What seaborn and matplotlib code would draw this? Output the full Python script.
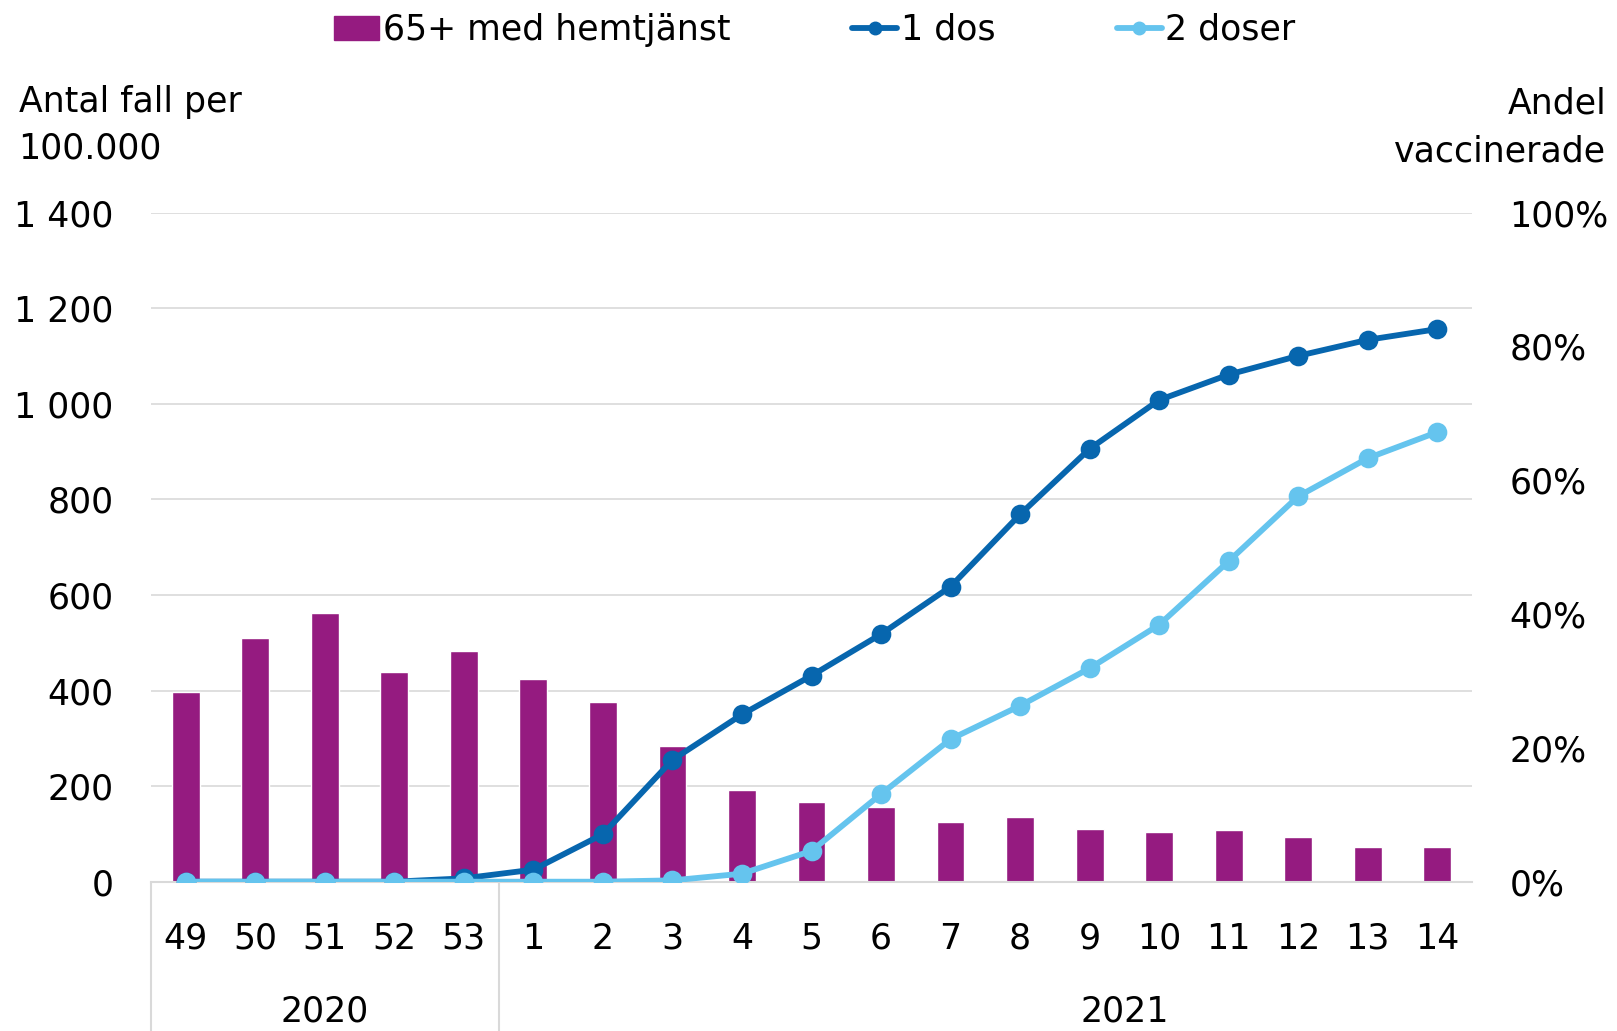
import numpy as np
import pandas as pd
import seaborn as sns
import matplotlib
matplotlib.use("Agg")
import matplotlib.pyplot as plt
import matplotlib.transforms as mtransforms
from matplotlib.lines import Line2D
from matplotlib.patches import Patch
from matplotlib.ticker import FuncFormatter

# ---- data ----
weeks = ["49", "50", "51", "52", "53", "1", "2", "3", "4", "5", "6", "7",
         "8", "9", "10", "11", "12", "13", "14"]
years = ["2020", "2021"]
year_counts = [5, 14]
cases_65_hemtjanst = [397, 509, 563, 438, 483, 425, 377, 283, 192, 166, 157,
                      124, 136, 111, 103, 109, 94, 73, 73]
dose1_pct = [0, 0, 0, 0, 0.5, 1.8, 7.1, 18.2, 25.0, 30.8, 37.0, 44.1, 54.9,
             64.7, 72.0, 75.8, 78.6, 81.0, 82.6]
dose2_pct = [0, 0, 0, 0, 0, 0, 0, 0.2, 1.2, 4.6, 13.1, 21.3, 26.3, 31.9,
             38.4, 47.9, 57.6, 63.3, 67.2]
left_ticks = [0, 200, 400, 600, 800, 1000, 1200, 1400]
right_ticks = [0, 20, 40, 60, 80, 100]
label_bar = "65+ med hemtjänst"
label_d1 = "1 dos"
label_d2 = "2 doser"

# ---- style / layout ----
PURPLE = "#951B80"
DBLUE = "#0766AE"
LBLUE = "#65C4EE"
GRID = "#D9D9D9"
FS = 25
LW = 4.2
MS = 11
year_label_shift = [0.0, 2.0]   # horizontal offset (in category units) of year labels

sns.set_theme(style="white")
plt.rcParams["font.family"] = ["DejaVu Sans"]
plt.rcParams["font.size"] = FS
plt.rcParams["text.color"] = "black"

df = pd.DataFrame({"week": weeks, "cases": cases_65_hemtjanst,
                   "d1": np.array(dose1_pct) / 100.0,
                   "d2": np.array(dose2_pct) / 100.0})

fig = plt.figure(figsize=(16.17, 10.31), dpi=100)
ax = fig.add_axes([151 / 1617, 1 - 881.7 / 1031, (1472 - 151) / 1617,
                   (881.7 - 212.7) / 1031])

sns.barplot(data=df, x="week", y="cases", order=weeks, color=PURPLE,
            width=0.4, saturation=1, ax=ax, zorder=2)
ax.set_ylim(0, 1400)
ax.set_xlim(-0.5, len(weeks) - 0.5)
ax.set_yticks(left_ticks)
ax.yaxis.set_major_formatter(FuncFormatter(lambda v, p: f"{int(v):,}".replace(",", " ")))
ax.grid(axis="y", color=GRID, linewidth=1.2, zorder=0)
ax.set_axisbelow(True)
for s in ["left", "right", "top"]:
    ax.spines[s].set_visible(False)
ax.spines["bottom"].set_color(GRID)
ax.spines["bottom"].set_linewidth(1.5)
ax.set_xlabel("")
ax.set_ylabel("")
ax.tick_params(axis="y", length=0, pad=27, labelsize=FS, labelcolor="black")
ax.tick_params(axis="x", length=0, pad=29, labelsize=FS, labelcolor="black")

ax2 = ax.twinx()
sns.pointplot(data=df, x="week", y="d1", order=weeks, color=DBLUE, ax=ax2,
              markers="o", linewidth=LW, markersize=MS, errorbar=None)
sns.pointplot(data=df, x="week", y="d2", order=weeks, color=LBLUE, ax=ax2,
              markers="o", linewidth=LW, markersize=MS, errorbar=None)
ax2.set_ylim(0, 1)
ax2.set_xlim(-0.5, len(weeks) - 0.5)
ax2.set_yticks([t / 100 for t in right_ticks])
ax2.set_yticklabels([f"{t}%" for t in right_ticks])
ax2.tick_params(axis="y", length=0, pad=27, labelsize=FS, labelcolor="black")
ax2.set_ylabel("")
ax2.set_xlabel("")
for s in ["left", "right", "top", "bottom"]:
    ax2.spines[s].set_visible(False)
ax2.grid(False)

# multi-level category axis
trans = mtransforms.blended_transform_factory(ax.transData, fig.transFigure)
bottom_fig = 1 - 881.7 / 1031
start = 0
for yr, n, sh in zip(years, year_counts, year_label_shift):
    x0 = start - 0.5
    ax.add_line(Line2D([x0, x0], [0, bottom_fig], transform=trans, color=GRID,
                       linewidth=1.5, clip_on=False))
    ax.text(start + (n - 1) / 2 + sh, 1 - 1012 / 1031, yr, transform=trans,
            ha="center", va="center", fontsize=FS, color="black")
    start += n

# axis titles
fig.text(18.5 / 1617, 1 - 102 / 1031, "Antal fall per", ha="left", va="center", fontsize=FS)
fig.text(18.5 / 1617, 1 - 148.5 / 1031, "100.000", ha="left", va="center", fontsize=FS)
fig.text(1606 / 1617, 1 - 104 / 1031, "Andel", ha="right", va="center", fontsize=FS)
fig.text(1606 / 1617, 1 - 151.5 / 1031, "vaccinerade", ha="right", va="center", fontsize=FS)

handles = [Patch(facecolor=PURPLE, edgecolor=PURPLE),
           Line2D([], [], color=DBLUE, marker="o", linewidth=LW, markersize=9),
           Line2D([], [], color=LBLUE, marker="o", linewidth=LW, markersize=9)]
leg = fig.legend(handles, [label_bar, label_d1, label_d2], loc="center",
                 bbox_to_anchor=(0.504, 1 - 30 / 1031), ncol=3, frameon=False,
                 fontsize=FS, handlelength=1.3, handletextpad=0.1,
                 columnspacing=3.5, borderaxespad=0)
for t in leg.get_texts():
    t.set_color("black")

fig.savefig("out.png", dpi=100)
